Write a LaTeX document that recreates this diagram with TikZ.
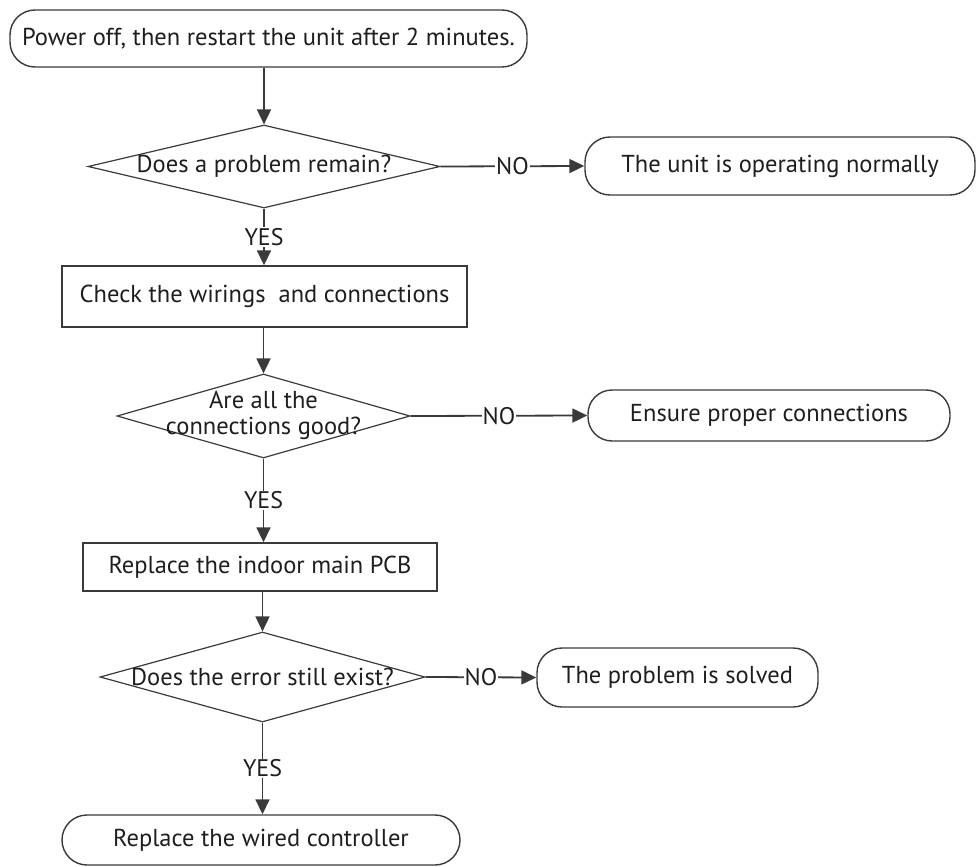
\documentclass[tikz,border=0pt]{standalone}
\usepackage{fontspec}
\setmainfont{PT Sans}
\usetikzlibrary{shapes.geometric,arrows.meta}
\definecolor{linec}{HTML}{3A3A3A}
\definecolor{textc}{HTML}{1E1E1E}
\begin{document}
\begin{tikzpicture}[x=1pt,y=-1pt,
  base/.style={draw=linec, line width=1.4pt, text=textc, inner sep=0pt,
    font=\fontsize{24.5}{28}\selectfont},
  term/.style={base, rounded corners=25pt},
  proc/.style={base},
  dec/.style={base, line width=1.2pt, diamond},
  dtext/.style={text=textc, inner sep=0pt, align=center,
    font=\fontsize{24.5}{26}\selectfont},
  lbl/.style={fill=white, text=textc, inner sep=1pt,
    font=\fontsize{24}{26}\selectfont},
  arr/.style={draw=linec, line width=1.8pt, -{Triangle[length=15pt,width=14pt]}},
  ln/.style={draw=linec, line width=1.8pt}]
\useasboundingbox (0,0) rectangle (978,867);

\node[term, minimum width=517pt, minimum height=57pt] (start) at (268.5,38.5)
  {Power off, then restart the unit after 2 minutes.};

\node[dec, minimum width=352pt, minimum height=83pt] (d1) at (264,166.5) {};
\node[dtext] (d1t) at (d1) {Does a problem remain?};
\node[term, minimum width=390pt, minimum height=58pt] (ok) at (780,166)
  {The unit is operating normally};

\node[proc, minimum width=405pt, minimum height=61pt] (chk) at (264.5,296.5)
  {Check the wirings\ \ and connections};

\node[dec, minimum width=293pt, minimum height=84pt] (d2) at (263.5,416) {};
\node[dtext] (d2t) at (263.5,415) {Are all the\\connections good?};
\node[term, rounded corners=24pt, minimum width=362pt, minimum height=51pt] (ens) at (769,415.5)
  {Ensure proper connections};

\node[proc, minimum width=354pt, minimum height=48pt] (pcb) at (260,567)
  {Replace the indoor main PCB};

\node[dec, minimum width=325pt, minimum height=90pt] (d3) at (262.5,677) {};
\node[dtext] (d3t) at (d3) {Does the error still exist?};
\node[term, minimum width=281pt, minimum height=59pt] (solved) at (677.5,677.5)
  {The problem is solved};

\node[term, minimum width=398pt, minimum height=50pt] (wired) at (261,840)
  {Replace the wired controller};

\draw[arr] (start.south -| d1.north) -- (d1.north);
\draw[arr] (d1.east) -- node[lbl]{NO} (ok.west);
\draw[arr] (d1.south) -- node[lbl]{YES} (d1.south |- chk.north);
\draw[arr] (chk.south -| d2.north) -- (d2.north);
\draw[arr] (d2.east) -- node[lbl]{NO} (ens.west);
\draw[arr] (d2.south) -- node[lbl]{YES} (d2.south |- pcb.north);
\draw[arr] (pcb.south -| d3.north) -- (d3.north);
\draw[arr] (d3.east) -- node[lbl]{NO} (solved.west);
\draw[arr] (d3.south) -- node[lbl]{YES} (d3.south |- wired.north);
\end{tikzpicture}
\end{document}
